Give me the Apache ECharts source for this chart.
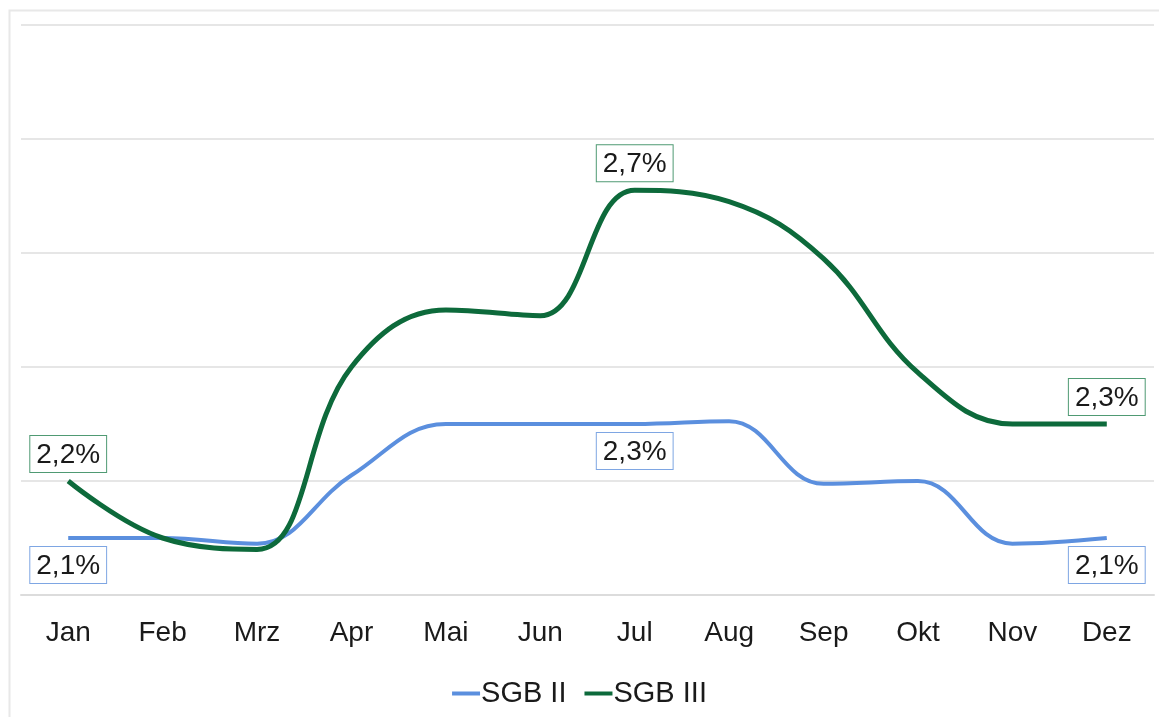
<!DOCTYPE html>
<html>
<head>
<meta charset="utf-8">
<script src="https://cdn.jsdelivr.net/npm/echarts@6/dist/echarts.min.js"></script>
<style>
	html, body { margin: 0; padding: 0; background: #fff; }
	#chart { width: 1159px; height: 717px; }
</style>
</head>
<body>
<div id="chart"></div>
<script>
// Monate
var months = ['Jan', 'Feb', 'Mrz', 'Apr', 'Mai', 'Jun', 'Jul', 'Aug', 'Sep', 'Okt', 'Nov', 'Dez'];
// Werte in Prozent
var sgb2 = [2.1, 2.1, 2.09, 2.21, 2.3, 2.3, 2.3, 2.305, 2.195, 2.2, 2.09, 2.1];
var sgb3 = [2.2, 2.1, 2.08, 2.4, 2.5, 2.49, 2.71, 2.69, 2.59, 2.39, 2.3, 2.3];
// Punkte mit Beschriftung
var labelIdx = [0, 6, 11];
var yTicks = [2.0, 2.2, 2.4, 2.6, 2.8, 3.0];

var blue = '#5b8fde';
var green = '#0d6a3b';

function fmt(v) {
	return v.toFixed(1).replace('.', ',') + '%';
}

function buildData(values, pos, border) {
	return values.map(function(v, i) {
		if (labelIdx.indexOf(i) < 0) return v;
		return {
			value: v,
			label: {
				show: true,
				position: pos,
				distance: 9,
				formatter: function(p) { return fmt(p.value); },
				fontFamily: 'Liberation Sans',
				fontSize: 28,
				color: '#1a1a1a',
				backgroundColor: '#fff',
				borderColor: border,
				borderWidth: 1,
				padding: [5, 6, 3, 6]
			}
		};
	});
}

var myChart = echarts.init(document.getElementById('chart'));
var option = {
	backgroundColor: '#fff',
	animation: false,
	graphic: [{
		type: 'rect',
		shape: { x: 9.5, y: 10.5, width: 1160, height: 720 },
		style: { fill: 'none', stroke: '#e8e8e8', lineWidth: 2 }
	}],
	grid: { left: 21, right: 5, top: 25, bottom: 122 },
	legend: {
		bottom: 4,
		left: 'center',
		icon: 'rect',
		itemWidth: 28,
		itemHeight: 4,
		itemGap: 18,
		textStyle: { fontFamily: 'Liberation Sans', fontSize: 29, color: '#1a1a1a', padding: [0, 0, 0, -4] },
		data: ['SGB II', 'SGB III']
	},
	xAxis: {
		type: 'category',
		data: months,
		boundaryGap: true,
		axisLine: { lineStyle: { color: '#dcdcdc', width: 2 } },
		axisTick: { show: false },
		axisLabel: { fontFamily: 'Liberation Sans', fontSize: 28, color: '#1a1a1a', margin: 24 }
	},
	yAxis: {
		type: 'value',
		min: yTicks[0],
		max: yTicks[yTicks.length - 1],
		interval: 0.2,
		axisLabel: { show: false },
		axisLine: { show: false },
		axisTick: { show: false },
		splitLine: { lineStyle: { color: '#e6e6e6', width: 2 } }
	},
	series: [{
		name: 'SGB II',
		type: 'line',
		smooth: 0.4,
		symbol: 'circle',
		symbolSize: 0,
		showSymbol: true,
		color: blue,
		lineStyle: { color: blue, width: 4 },
		data: buildData(sgb2, 'bottom', '#7ea6e3')
	}, {
		name: 'SGB III',
		type: 'line',
		smooth: 0.4,
		symbol: 'circle',
		symbolSize: 0,
		showSymbol: true,
		color: green,
		lineStyle: { color: green, width: 5 },
		data: buildData(sgb3, 'top', '#4f9a73')
	}]
};
myChart.setOption(option);
</script>
</body>
</html>
